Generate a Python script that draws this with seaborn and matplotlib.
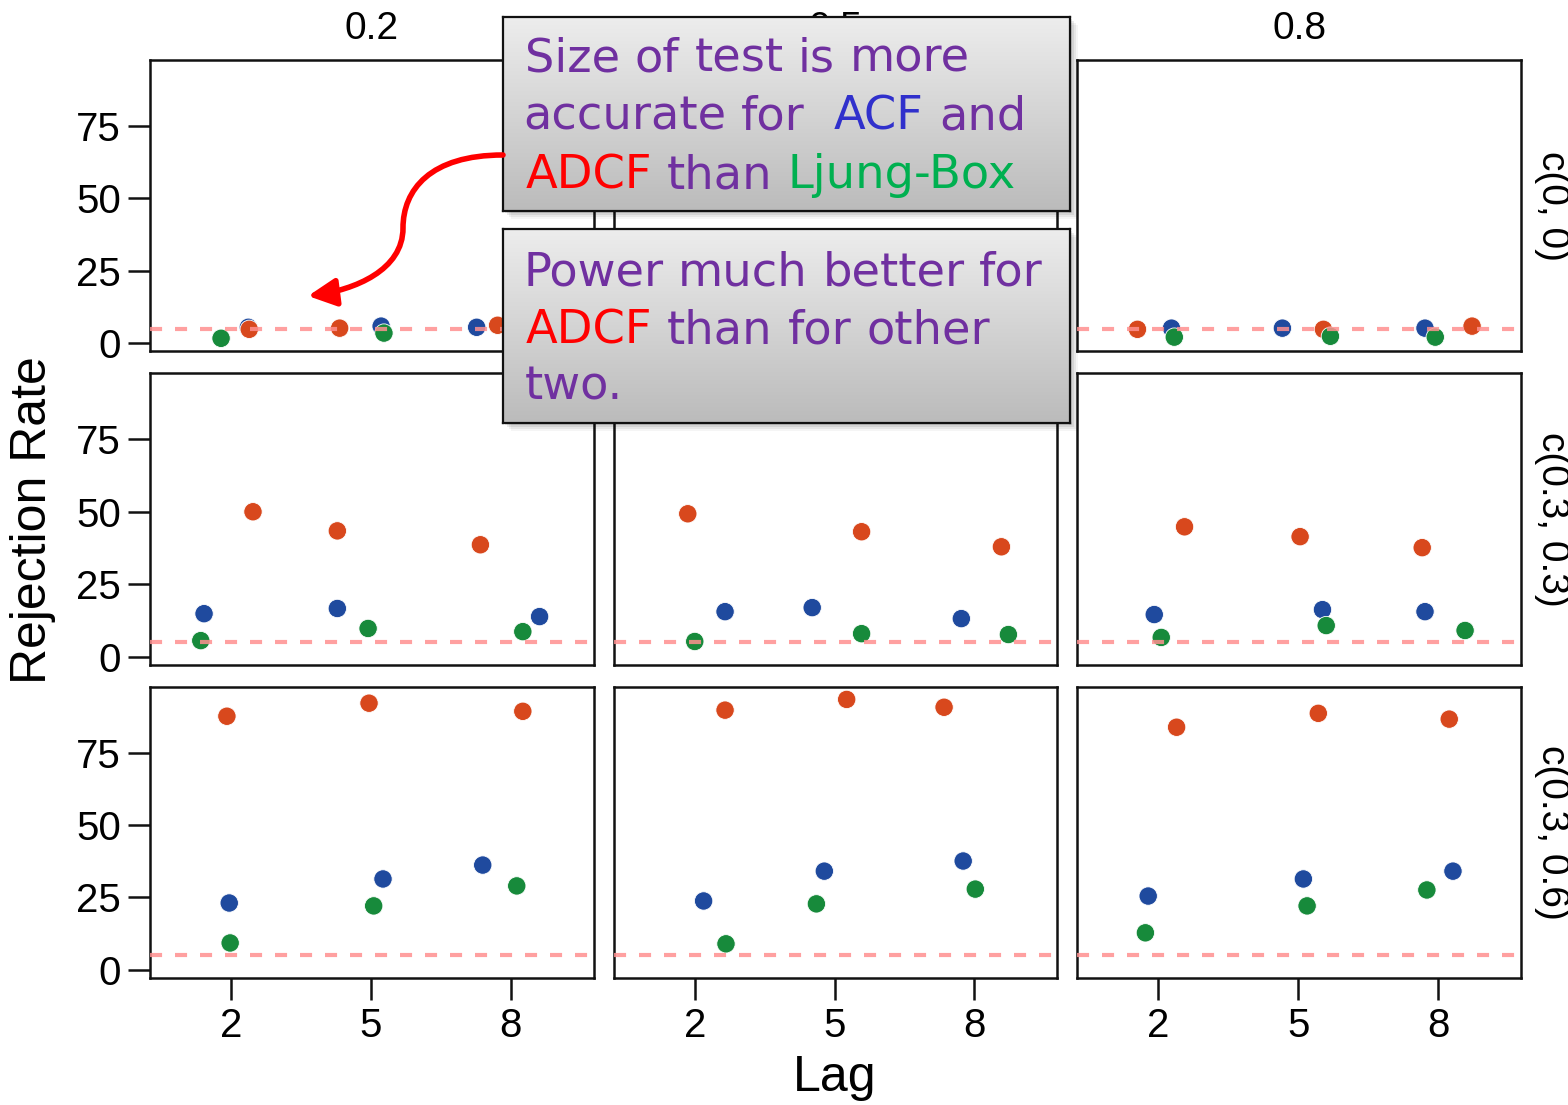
import numpy as np
import pandas as pd
import matplotlib
matplotlib.use("Agg")
import matplotlib.pyplot as plt
import seaborn as sns
from matplotlib.path import Path
from matplotlib.patches import FancyArrowPatch, Rectangle
from matplotlib.colors import LinearSegmentedColormap

# ---------------------------------------------------------------- data
ar_levels = ["c(0, 0)", "c(0.3, 0.3)", "c(0.3, 0.6)"]   # facet rows
ma_levels = ["0.2", "0.5", "0.8"]                       # facet columns
tests = ["ACF", "ADCF", "Ljung-Box"]
lags = [2, 5, 8]

# rejection rates (%), ordered row by row, column by column, lag 2/5/8
acf_rate = [5.5, 5.9, 5.5,   5.0, 5.3, 4.9,   5.2, 5.2, 5.2,
            14.8, 16.6, 13.8, 15.5, 16.9, 13.1, 14.5, 16.2, 15.5,
            23.1, 31.4, 36.2, 23.8, 34.1, 37.6, 25.5, 31.4, 34.1]
adcf_rate = [4.8, 5.2, 6.2,   5.1, 4.7, 5.4,   4.8, 4.8, 5.9,
             50.0, 43.4, 38.6, 49.3, 43.1, 37.9, 44.8, 41.4, 37.6,
             87.6, 92.1, 89.3, 89.7, 93.4, 90.7, 83.8, 88.6, 86.6]
lb_rate = [1.7, 3.5, 2.5,   2.0, 2.8, 2.3,   2.1, 2.4, 2.1,
           5.5, 9.7, 8.6,   5.2, 7.9, 7.6,   6.6, 10.7, 9.0,
           9.3, 22.1, 29.0, 9.0, 22.8, 27.9, 12.8, 22.1, 27.6]

# jittered lag positions of each point (same ordering)
acf_lag = [2.37, 5.22, 7.27, 2.20, 4.80, 8.30, 2.28, 4.66, 7.72,
           1.42, 4.28, 8.62, 2.65, 4.52, 7.72, 1.91, 5.52, 7.72,
           1.96, 5.26, 7.40, 2.19, 4.78, 7.76, 1.78, 5.11, 8.32]
adcf_lag = [2.39, 4.33, 7.72, 1.70, 5.40, 7.60, 1.55, 5.54, 8.73,
            2.47, 4.28, 7.35, 1.85, 5.58, 8.58, 2.56, 5.04, 7.66,
            1.91, 4.96, 8.26, 2.65, 5.26, 7.35, 2.39, 5.43, 8.24]
lb_lag = [1.785, 5.28, 8.40, 2.30, 5.10, 7.80, 2.34, 5.69, 7.94,
          1.35, 4.94, 8.26, 2.00, 5.58, 8.73, 2.06, 5.60, 8.58,
          1.98, 5.06, 8.13, 2.67, 4.61, 8.02, 1.72, 5.19, 7.76]

nominal_size = 5.0
y_ticks = [0, 25, 50, 75]

rows = []
for test, rates, pos in [("ACF", acf_rate, acf_lag),
                         ("ADCF", adcf_rate, adcf_lag),
                         ("Ljung-Box", lb_rate, lb_lag)]:
    i = 0
    for ar in ar_levels:
        for ma in ma_levels:
            for lag in lags:
                rows.append(dict(test=test, ar=ar, ma=ma, lag=lag,
                                 lag_pos=pos[i], rate=rates[i]))
                i += 1
df = pd.DataFrame(rows)

# ---------------------------------------------------------------- style
sns.set_theme(style="ticks")
plt.rcParams["font.family"] = ["Liberation Sans", "DejaVu Sans"]
plt.rcParams["text.color"] = "black"
plt.rcParams["axes.labelcolor"] = "black"
plt.rcParams["xtick.color"] = "black"
plt.rcParams["ytick.color"] = "black"

palette = {"ACF": "#1F4A9E", "ADCF": "#D8481D", "Ljung-Box": "#178A3B"}
W, H = 1568, 1105

g = sns.FacetGrid(df, row="ar", col="ma", row_order=ar_levels,
                  col_order=ma_levels, sharex=True, sharey=True,
                  despine=False, height=3, aspect=1.5)
g.map_dataframe(sns.scatterplot, x="lag_pos", y="rate", hue="test",
                hue_order=tests, palette=palette, s=175,
                edgecolor="white", linewidth=0.6, zorder=3)

fig = g.figure
fig.set_size_inches(W / 100, H / 100)
fig.set_dpi(100)
fig.subplots_adjust(left=150 / W, right=1521 / W, top=1 - 60 / H,
                    bottom=1 - 978 / H, wspace=20 / 443, hspace=22 / 291)

for (i, j), ax in np.ndenumerate(g.axes):
    ax.set_xlim(0.26, 9.78)
    ax.set_ylim(-2.8, 97.8)
    ax.axhline(nominal_size, color="#FF9090", lw=3.0, alpha=0.85,
               dashes=(2.9, 3.1), zorder=4)
    for sp in ax.spines.values():
        sp.set_color("#111111")
        sp.set_linewidth(1.8)
    ax.set_xticks(lags)
    ax.set_yticks(y_ticks)
    ax.set_xlabel("")
    ax.set_ylabel("")
    ax.set_title("")
    ax.tick_params(axis="both", which="both", direction="out",
                   bottom=True, left=True, top=False, right=False,
                   length=16, width=1.8, color="#111111", pad=5,
                   labelsize=29, labelcolor="black")
    if j != 0:
        ax.tick_params(axis="y", length=0, labelleft=False)
    if i != 2:
        ax.tick_params(axis="x", length=0, labelbottom=False)
    if i == 0:
        ax.set_title(ma_levels[j], fontsize=28, pad=15, color="black")
    if j == 2:
        ax.text(1.0 + 13 / 443, 0.5, ar_levels[i], rotation=270,
                transform=ax.transAxes, ha="left", va="center",
                fontsize=28, color="black")
    leg = ax.get_legend()
    if leg is not None:
        leg.remove()

fig.text(33 / W, 1 - 520 / H, "Rejection Rate", rotation=90,
         ha="center", va="center", fontsize=36, color="black")
fig.text(835 / W, 1 - 1078 / H, "Lag", ha="center", va="center",
         fontsize=36, color="black")

# ---------------------------------------------------------------- callouts
ANN_FONT = ["DejaVu Sans"]
purple, blue, red, green = "#7030A0", "#3030CC", "#FF0000", "#00B050"

box_specs = [
    (503, 17, 1070, 211),
    (503, 229, 1070, 423),
]
grad = LinearSegmentedColormap.from_list("box", ["#EDEDED", "#D4D4D4", "#BBBBBB"])
for (x0, y0, x1, y1) in box_specs:
    # soft drop shadow
    for k, a in enumerate([0.10, 0.08, 0.06, 0.04]):
        off = 2 + 2 * k
        fig.add_artist(Rectangle(((x0 + off) / W, 1 - (y1 + off) / H),
                                 (x1 - x0) / W, (y1 - y0) / H,
                                 transform=fig.transFigure, color="black",
                                 alpha=a, lw=0, zorder=4))
    bax = fig.add_axes([x0 / W, 1 - y1 / H, (x1 - x0) / W, (y1 - y0) / H],
                       zorder=5)
    bax.imshow(np.linspace(0, 1, 256).reshape(-1, 1), cmap=grad,
               aspect="auto", extent=[0, 1, 0, 1], origin="upper")
    bax.set_xticks([])
    bax.set_yticks([])
    for sp in bax.spines.values():
        sp.set_color("#111111")
        sp.set_linewidth(1.6)

fig.canvas.draw()
renderer = fig.canvas.get_renderer()


def text_width(s, size):
    t = fig.text(0, 0, s, fontsize=size, family=ANN_FONT)
    w = t.get_window_extent(renderer).width
    t.remove()
    return w


# font size chosen so the first line spans the callout width
ann_size = 30 * 445 / text_width("Size of test is more", 30)
space_w = text_width("a a", ann_size) - text_width("aa", ann_size)

callout_lines = [
    (525, 72, [("Size", purple), ("of", purple), ("test", purple),
               ("is", purple), ("more", purple)]),
    (523, 130, [("accurate", purple), ("for", purple), ("", purple),
                ("ACF", blue), ("and", purple)]),
    (526, 188, [("ADCF", red), ("than", purple), ("Ljung-Box", green)]),
    (523, 285, [("Power", purple), ("much", purple), ("better", purple),
                ("for", purple)]),
    (526, 343, [("ADCF", red), ("than", purple), ("for", purple),
                ("other", purple)]),
    (525, 400, [("two.", purple)]),
]
for x, y, words in callout_lines:
    for word, color in words:
        if word:
            fig.text(x / W, 1 - y / H, word, fontsize=ann_size,
                     family=ANN_FONT, color=color, ha="left",
                     va="baseline", zorder=10)
            x += text_width(word, ann_size)
        x += space_w

# curved red arrow from the first callout to the size results
def px(x, y):
    return (x / W, 1 - y / H)

verts = [px(503, 155), px(430, 155), px(403, 190), px(403, 228),
         px(403, 270), px(355, 290), px(308, 296)]
codes = [Path.MOVETO, Path.CURVE4, Path.CURVE4, Path.CURVE4,
         Path.CURVE4, Path.CURVE4, Path.CURVE4]
arrow = FancyArrowPatch(path=Path(verts, codes),
                        arrowstyle="-|>,head_length=0.7,head_width=0.35",
                        mutation_scale=24, color="#FF0000", lw=4.0,
                        transform=fig.transFigure, zorder=10)
fig.add_artist(arrow)

fig.savefig("out.png", dpi=100)
